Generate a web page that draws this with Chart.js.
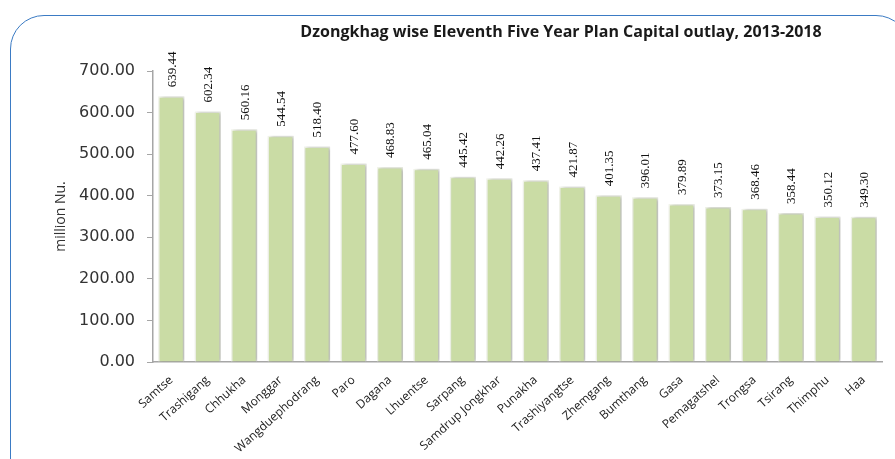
<!DOCTYPE html>
<html>
<head>
<meta charset="utf-8">
<script src="https://cdn.jsdelivr.net/npm/chart.js@4"></script>
<style>
  html, body { margin: 0; padding: 0; background: #fff; }
  #wrap { position: relative; width: 895px; height: 459px; overflow: hidden; }
  #frame {
    position: absolute; left: 10px; top: 15px; width: 900px; height: 480px;
    border: 1.5px solid #3b7bc4; border-radius: 34px; box-sizing: border-box;
  }
  #chart { position: absolute; left: 0; top: 0; }
</style>
</head>
<body>
<div id="wrap">
  <div id="frame"></div>
  <canvas id="chart" width="895" height="459"></canvas>
</div>
<script>
const districts = [
  "Samtse", "Trashigang", "Chhukha", "Monggar", "Wangduephodrang", "Paro",
  "Dagana", "Lhuentse", "Sarpang", "Samdrup Jongkhar", "Punakha",
  "Trashiyangtse", "Zhemgang", "Bumthang", "Gasa", "Pemagatshel",
  "Trongsa", "Tsirang", "Thimphu", "Haa",
];

const outlay = [
  639.44, 602.34, 560.16, 544.54, 518.40, 477.60, 468.83, 465.04, 445.42,
  442.26, 437.41, 421.87, 401.35, 396.01, 379.89, 373.15, 368.46, 358.44,
  350.12, 349.30,
];

const yTicks = [0, 100, 200, 300, 400, 500, 600, 700];

const titleText = "Dzongkhag wise Eleventh Five Year Plan Capital outlay, 2013-2018";

// bars get a soft shadow like the office chart
const barShadow = {
  id: "barShadow",
  beforeDatasetDraw(chart) {
    const ctx = chart.ctx;
    ctx.save();
    ctx.shadowColor = "rgba(0,0,0,0.28)";
    ctx.shadowBlur = 4;
    ctx.shadowOffsetX = 2;
    ctx.shadowOffsetY = 0;
  },
  afterDatasetDraw(chart) {
    chart.ctx.restore();
  },
};

const valueLabels = {
  id: "valueLabels",
  afterDatasetsDraw(chart) {
    const ctx = chart.ctx;
    const meta = chart.getDatasetMeta(0);
    ctx.save();
    ctx.font = "13px 'Liberation Serif'";
    ctx.fillStyle = "#111";
    ctx.textAlign = "left";
    ctx.textBaseline = "middle";
    meta.data.forEach((bar, i) => {
      ctx.save();
      ctx.translate(bar.x + 1, bar.y - 9);
      ctx.rotate(-Math.PI / 2);
      ctx.fillText(outlay[i].toFixed(2), 0, 0);
      ctx.restore();
    });
    ctx.restore();
  },
};

const chartTitle = {
  id: "chartTitle",
  afterDraw(chart) {
    const ctx = chart.ctx;
    ctx.save();
    ctx.font = "bold 16px 'Open Sans'";
    ctx.fillStyle = "#1a1a1a";
    ctx.textAlign = "center";
    ctx.textBaseline = "middle";
    ctx.fillText(titleText, 561, 32);
    ctx.restore();
  },
};

const chartConfig = {
  type: "bar",
  data: {
    labels: districts,
    datasets: [
      {
        label: "Capital outlay",
        data: outlay,
        backgroundColor: "#cadca5",
        borderColor: "#f3f6ec",
        borderWidth: 1.5,
        categoryPercentage: 1,
        barPercentage: 0.72,
      },
    ],
  },
  options: {
    responsive: false,
    animation: false,
    layout: { padding: { left: 48, right: 13, top: 71, bottom: 0 } },
    plugins: {
      legend: { display: false },
      tooltip: { enabled: false },
    },
    scales: {
      x: {
        grid: { display: false },
        border: { color: "#a6a6a6", width: 1.5 },
        ticks: {
          color: "#222",
          font: { family: "'Open Sans'", size: 12 },
          minRotation: 42,
          maxRotation: 42,
          autoSkip: false,
        },
        afterFit(scale) {
          scale.height = 97;
        },
      },
      y: {
        min: 0,
        max: 700,
        afterBuildTicks(scale) {
          scale.ticks = yTicks.map((v) => ({ value: v }));
        },
        grid: { drawOnChartArea: false, tickLength: 6, color: "#a6a6a6" },
        border: { color: "#a6a6a6", width: 1.5 },
        ticks: {
          color: "#333",
          padding: 12,
          font: { family: "'DejaVu Sans'", size: 16 },
          callback: (v) => Number(v).toFixed(2),
        },
        title: {
          display: true,
          text: "million Nu.",
          color: "#333",
          font: { family: "'Open Sans'", size: 14 },
          padding: { top: 5, bottom: 0 },
        },
        afterFit(scale) {
          scale.width = 105;
        },
      },
    },
  },
  plugins: [barShadow, valueLabels, chartTitle],
};

window.addEventListener("DOMContentLoaded", () => {
  const ctx = document.getElementById("chart");
  new Chart(ctx, chartConfig);
});
</script>
</body>
</html>
